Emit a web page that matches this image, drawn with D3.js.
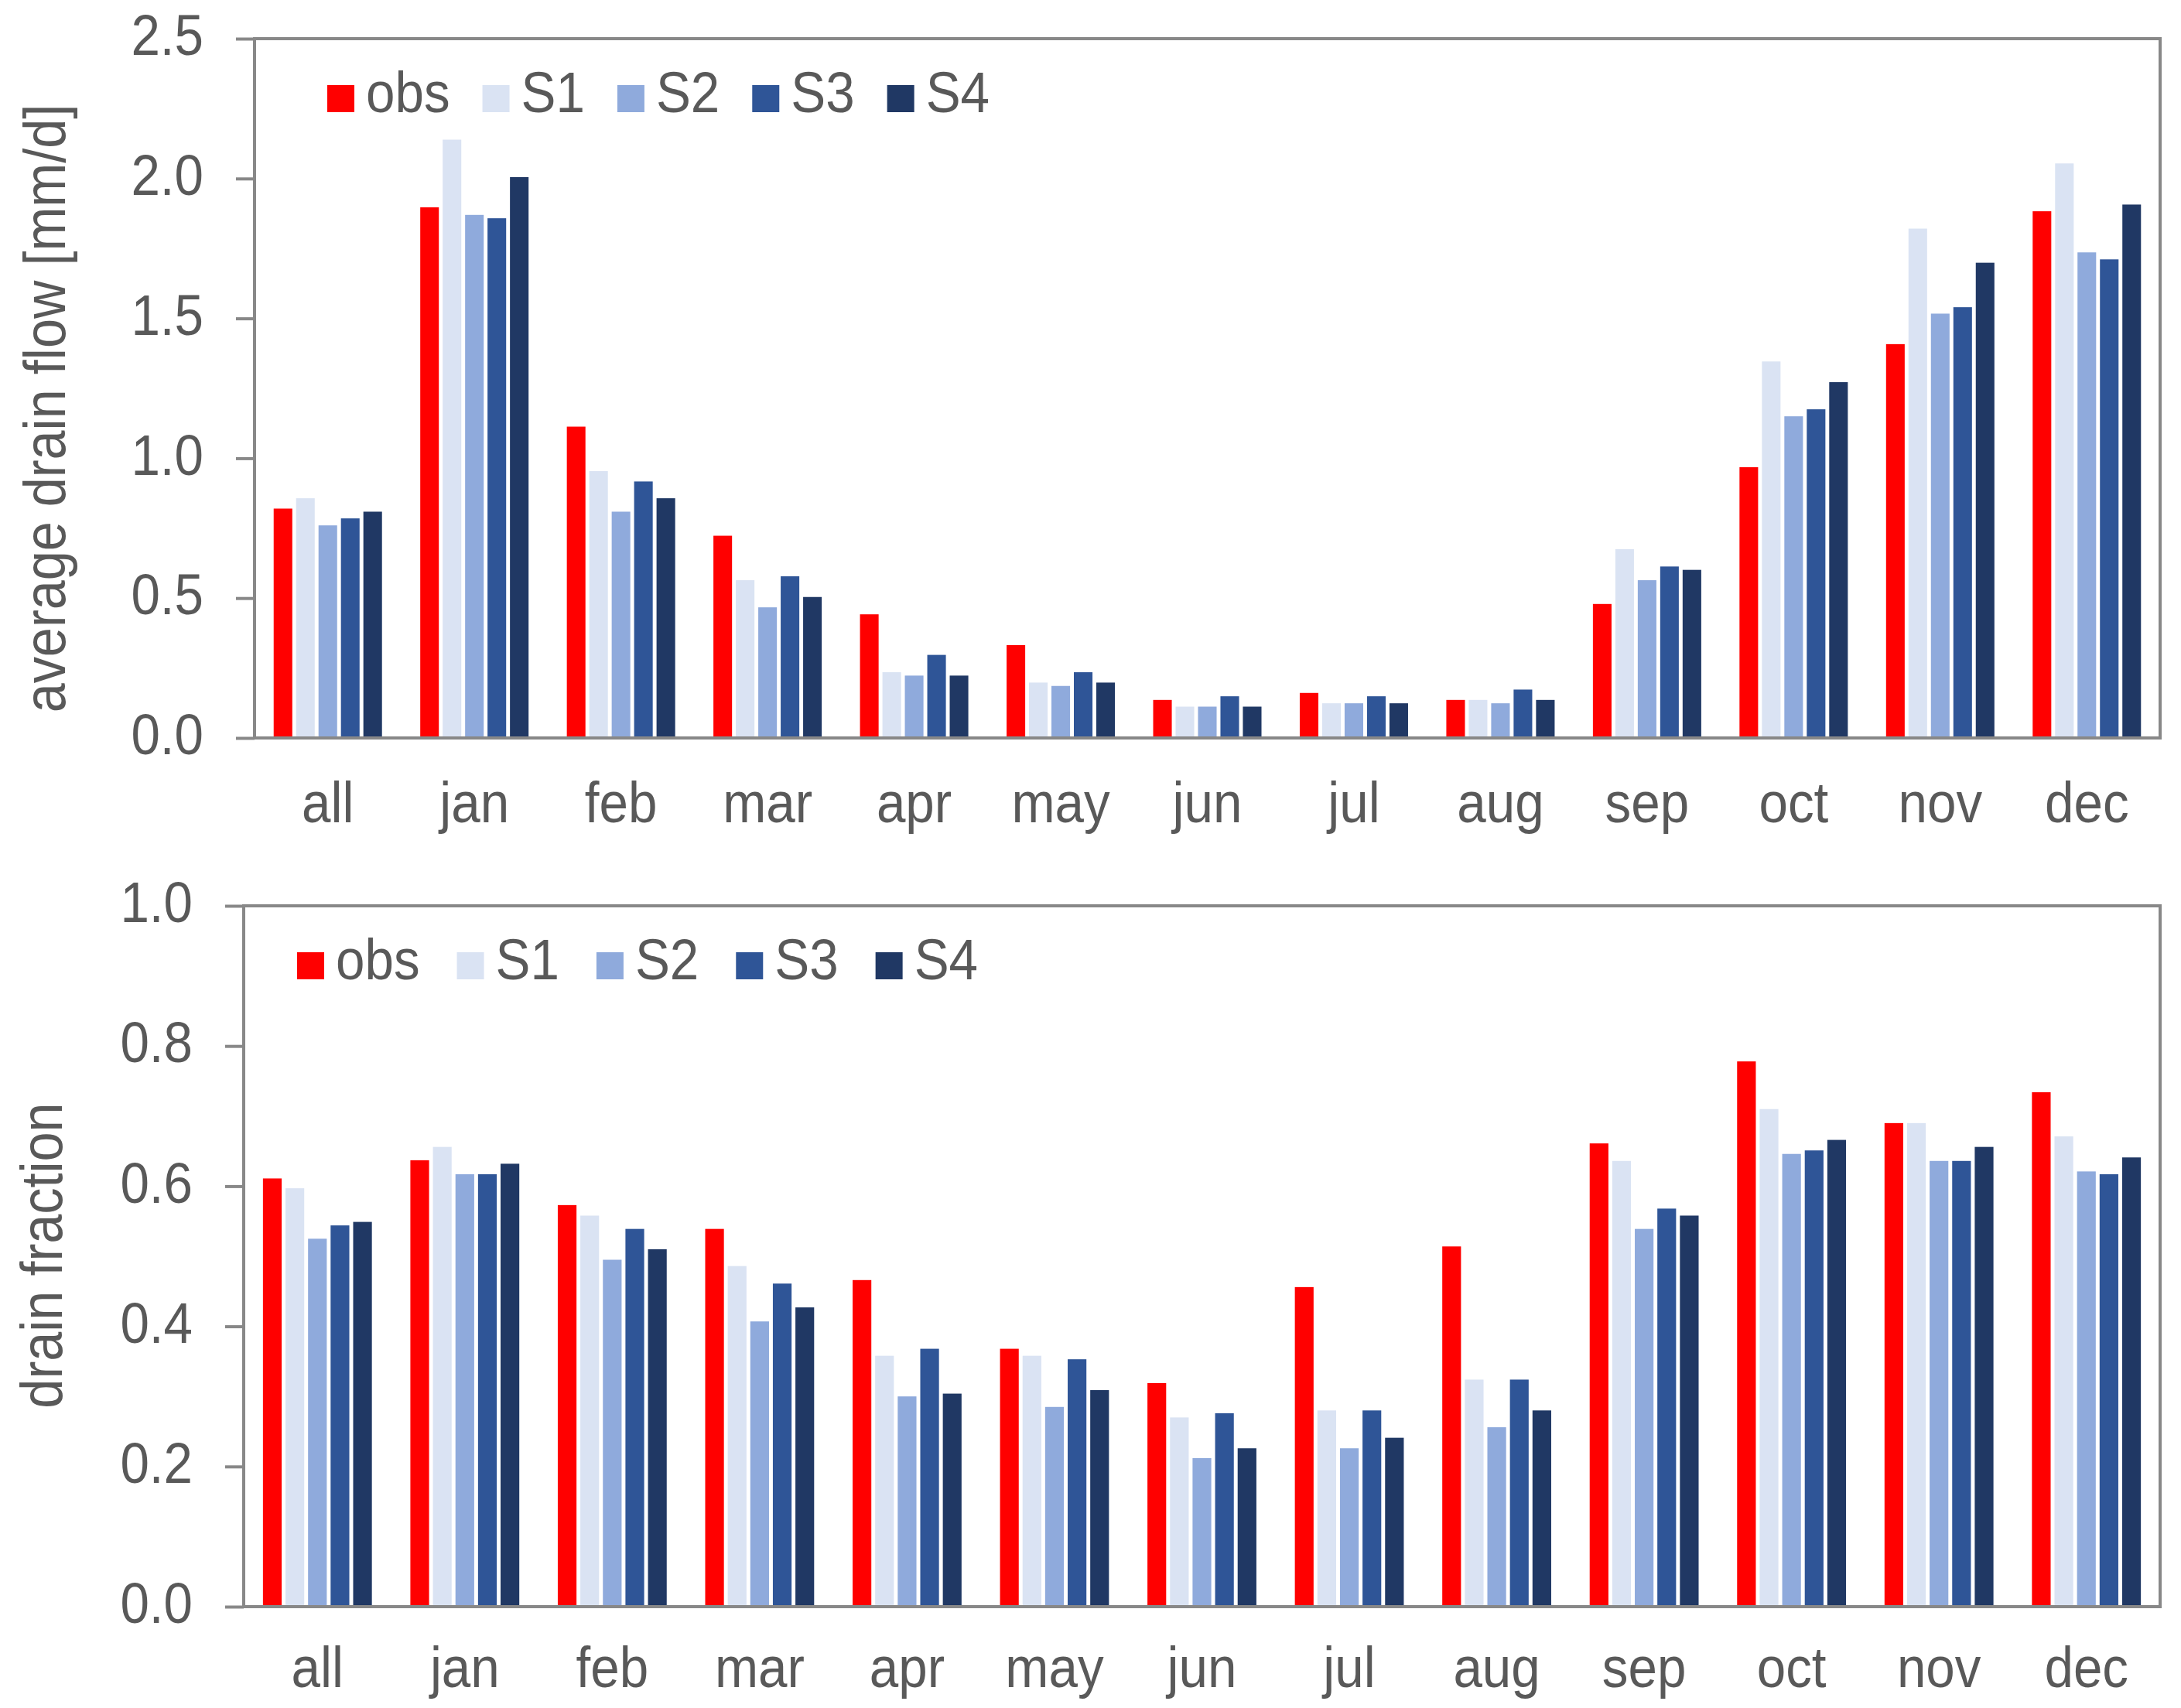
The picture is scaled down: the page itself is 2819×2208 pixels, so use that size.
<!DOCTYPE html>
<html>

<head>
    <meta charset="UTF-8">
    <style>
        body { margin: 0; background: #fff; }
        svg { display: block; }
        text { font-family: "Liberation Sans", Arial, sans-serif; fill: #595959; }
    </style>
</head>

<body>
    <svg></svg>
    <script src="https://d3js.org/d3.v7.min.js"></script>

    <script>

        // categories and series
        const categories = ["all", "jan", "feb", "mar", "apr", "may", "jun", "jul", "aug", "sep", "oct", "nov", "dec"];
        const seriesNames = ["obs", "S1", "S2", "S3", "S4"];
        const seriesColors = ["#ff0000", "#dae3f3", "#8faadc", "#2f5597", "#203864"];

        // average drain flow [mm/d]
        const flowObs = [0.82, 1.897, 1.113, 0.723, 0.442, 0.332, 0.136, 0.161, 0.136, 0.479, 0.968, 1.408, 1.883];
        const flowS1 = [0.857, 2.139, 0.954, 0.564, 0.235, 0.198, 0.112, 0.124, 0.136, 0.675, 1.346, 1.821, 2.054];
        const flowS2 = [0.76, 1.870, 0.809, 0.467, 0.223, 0.186, 0.112, 0.124, 0.124, 0.564, 1.150, 1.517, 1.736];
        const flowS3 = [0.785, 1.858, 0.917, 0.578, 0.297, 0.235, 0.149, 0.149, 0.173, 0.613, 1.175, 1.540, 1.711];
        const flowS4 = [0.809, 2.005, 0.857, 0.504, 0.223, 0.198, 0.112, 0.124, 0.136, 0.601, 1.272, 1.699, 1.907];
        const flowTicks = [0, 0.5, 1.0, 1.5, 2.0, 2.5];

        // drain fraction
        const fracObs = [0.611, 0.637, 0.573, 0.539, 0.466, 0.368, 0.319, 0.456, 0.514, 0.661, 0.778, 0.690, 0.734];
        const fracS1 = [0.597, 0.656, 0.558, 0.486, 0.358, 0.358, 0.270, 0.280, 0.324, 0.636, 0.710, 0.690, 0.671];
        const fracS2 = [0.525, 0.617, 0.495, 0.407, 0.300, 0.285, 0.212, 0.226, 0.256, 0.539, 0.646, 0.636, 0.621];
        const fracS3 = [0.544, 0.617, 0.539, 0.461, 0.368, 0.353, 0.276, 0.280, 0.324, 0.568, 0.651, 0.636, 0.617];
        const fracS4 = [0.549, 0.632, 0.510, 0.427, 0.304, 0.309, 0.226, 0.241, 0.280, 0.558, 0.666, 0.656, 0.641];
        const fracTicks = [0, 0.2, 0.4, 0.6, 0.8, 1.0];

        let width = 2819, height = 2208;

        let svg = d3.select("svg")
            .attr("width", width)
            .attr("height", height)
            .attr("viewBox", "0 0 " + width + " " + height);

        const color = d3.scaleOrdinal().domain(seriesNames).range(seriesColors);
        const axisColor = "#888888";
        const fontSize = 74;
        const squash = 0.91;   // text in the original is a bit narrow

        function buildRows(series) {
            return categories.map((c, i) => ({ cat: c, values: series.map(s => s[i]) }));
        }

        function drawPanel(opts) {
            const rows = buildRows(opts.series);

            const x = d3.scaleBand()
                .domain(categories)
                .range([opts.left, opts.right])
                .paddingInner(0.235)
                .paddingOuter(0.1175);

            const xs = d3.scaleBand()
                .domain(seriesNames)
                .range([0, x.bandwidth()])
                .paddingInner(0.17)
                .paddingOuter(0.085);

            const y = d3.scaleLinear()
                .domain([0, d3.max(opts.ticks)])
                .range([opts.bottom, opts.top]);

            const g = svg.append("g");

            // bars
            g.append("g")
                .selectAll("g")
                .data(rows)
                .join("g")
                .attr("transform", d => "translate(" + x(d.cat) + ",0)")
                .selectAll("rect")
                .data(d => seriesNames.map((s, i) => ({ s: s, v: d.values[i] })))
                .join("rect")
                .attr("x", d => xs(d.s))
                .attr("width", xs.bandwidth())
                .attr("y", d => y(d.v))
                .attr("height", d => y(0) - y(d.v))
                .attr("fill", d => color(d.s));

            // plot frame
            g.append("rect")
                .attr("x", opts.left)
                .attr("y", opts.top)
                .attr("width", opts.right - opts.left)
                .attr("height", opts.bottom - opts.top)
                .attr("fill", "none")
                .attr("stroke", axisColor)
                .attr("stroke-width", 4);

            // y axis
            const tickLen = 24, tickPad = 42;
            const yAxis = g.append("g")
                .attr("transform", "translate(" + opts.left + ",0)")
                .call(d3.axisLeft(y)
                    .tickValues(opts.ticks)
                    .tickFormat(d3.format(".1f"))
                    .tickSize(tickLen)
                    .tickPadding(tickPad));
            yAxis.select(".domain").remove();
            yAxis.selectAll(".tick line").attr("stroke", axisColor).attr("stroke-width", 4);
            yAxis.selectAll(".tick text")
                .attr("fill", "#595959")
                .attr("x", 0)
                .attr("dy", "0.28em")
                .attr("transform", "translate(" + (-tickLen - tickPad) + ",0) scale(" + squash + ",1)")
                .style("font-size", fontSize + "px")
                .style("font-family", "'Liberation Sans', Arial, sans-serif");

            // x axis labels
            const xAxis = g.append("g")
                .attr("transform", "translate(0," + opts.bottom + ")")
                .call(d3.axisBottom(x).tickSize(0).tickPadding(opts.xPad));
            xAxis.select(".domain").remove();
            xAxis.selectAll(".tick text")
                .attr("fill", "#595959")
                .attr("transform", "scale(" + squash + ",1)")
                .style("font-size", fontSize + "px")
                .style("font-family", "'Liberation Sans', Arial, sans-serif");

            // y title
            g.append("text")
                .attr("transform", "translate(" + opts.titleX + "," + opts.titleY + ") rotate(-90) scale(0.9,1)")
                .attr("text-anchor", "middle")
                .style("font-size", "76px")
                .text(opts.title);

            // legend
            const legend = g.append("g");
            let lx = opts.legendX;
            seriesNames.forEach(s => {
                legend.append("rect")
                    .attr("x", lx)
                    .attr("y", opts.legendY)
                    .attr("width", 35)
                    .attr("height", 35)
                    .attr("fill", color(s));
                const t = legend.append("text")
                    .attr("transform", "translate(" + (lx + 50) + "," + (opts.legendY + 35) + ") scale(" + squash + ",1)")
                    .style("font-size", fontSize + "px")
                    .text(s);
                lx += 50 + t.node().getComputedTextLength() * squash + opts.legendGap;
            });
        }

        drawPanel({
            series: [flowObs, flowS1, flowS2, flowS3, flowS4],
            ticks: flowTicks,
            left: 329, right: 2792, top: 50, bottom: 954,
            xPad: 56,
            title: "average drain flow [mm/d]",
            titleX: 84, titleY: 528,
            legendX: 423, legendY: 110, legendGap: 42
        });

        drawPanel({
            series: [fracObs, fracS1, fracS2, fracS3, fracS4],
            ticks: fracTicks,
            left: 315, right: 2792, top: 1171, bottom: 2077,
            xPad: 51,
            title: "drain fraction",
            titleX: 80, titleY: 1623,
            legendX: 384, legendY: 1231, legendGap: 48
        });

    </script>
</body>

</html>
